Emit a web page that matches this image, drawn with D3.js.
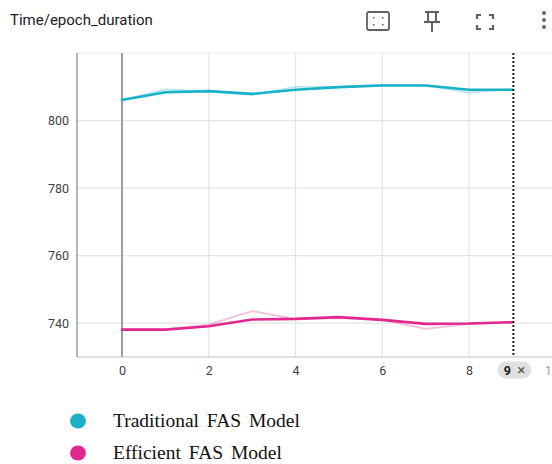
<!DOCTYPE html>
<html>
<head>
<meta charset="utf-8">
<script src="https://cdn.jsdelivr.net/npm/d3@7"></script>
<style>
  html, body { margin: 0; padding: 0; background: #fff; }
  svg { display: block; }
</style>
</head>
<body>
<svg id="chart" width="552" height="464"></svg>
<script>
const steps = [0, 1, 2, 3, 4, 5, 6, 7, 8, 9]
const traditionalRaw = [806.1, 809.2, 808.6, 807.6, 810.0, 810.0, 810.6, 810.4, 808.3, 809.3]
const traditionalSmooth = [806.1, 808.4, 808.7, 807.9, 809.1, 809.9, 810.4, 810.4, 809.1, 809.1]
const efficientRaw = [738.1, 738.2, 739.6, 743.6, 741.2, 741.5, 741.0, 738.3, 739.8, 740.3]
const efficientSmooth = [738.1, 738.1, 739.1, 741.1, 741.3, 741.8, 741.0, 739.8, 739.9, 740.3]
const seriesNames = ["Traditional FAS Model", "Efficient FAS Model"]
const seriesColors = ["#19b1c8", "#e2288f"]
const yTicks = [740, 760, 780, 800]
const xTicks = [0, 2, 4, 6, 8, 10]
const hoverStep = 9

const svg = d3.select("#chart")
const plotLeft = 77, plotTop = 53, plotBottom = 357, plotRight = 552

const x = d3.scaleLinear().domain([0, 8]).range([122, 469])
const y = d3.scaleLinear().domain([730, 820]).range([plotBottom, plotTop])

// title
svg.append("text")
  .attr("x", 10).attr("y", 25)
  .attr("font-family", "Roboto, sans-serif")
  .attr("font-size", 15)
  .attr("fill", "#212121")
  .text("Time/epoch_duration")

// toolbar icons
const icons = svg.append("g").attr("stroke", "#616161").attr("fill", "none")
icons.append("rect").attr("x", 367).attr("y", 12).attr("width", 22).attr("height", 18).attr("rx", 2).attr("stroke-width", 1.8)
icons.append("g").attr("fill", "#616161").attr("stroke", "none")
  .selectAll("rect").data([[373, 17], [382, 17], [373, 24], [382, 24]])
  .join("rect").attr("x", d => d[0]).attr("y", d => d[1]).attr("width", 1.5).attr("height", 1.5)
icons.append("path").attr("stroke-width", 2)
  .attr("d", "M425 12 H439 M428 12 V22 M436 12 V22 M424 22 H440 M432 22 V32")
icons.append("path").attr("stroke-width", 2.2)
  .attr("d", "M477 19 V15 H481 M489 15 H493 V19 M493 25 V29 H489 M481 29 H477 V25")
svg.append("g").attr("fill", "#616161")
  .selectAll("circle").data([13, 20, 27]).join("circle")
  .attr("cx", 544).attr("cy", d => d).attr("r", 2)

// frame
const plot = svg.append("g")
plot.append("line").attr("x1", plotLeft).attr("x2", plotRight).attr("y1", plotTop).attr("y2", plotTop)
  .attr("stroke", "#ececec").attr("stroke-width", 1)

// horizontal grid
plot.append("g").selectAll("line").data(yTicks).join("line")
  .attr("x1", plotLeft).attr("x2", plotRight)
  .attr("y1", d => y(d)).attr("y2", d => y(d))
  .attr("stroke", "#e4e4e4").attr("stroke-width", 1.2)

// vertical grid
plot.append("g").selectAll("line").data(xTicks).join("line")
  .attr("x1", d => x(d)).attr("x2", d => x(d))
  .attr("y1", plotTop).attr("y2", plotBottom)
  .attr("stroke", d => d === 0 ? "#9e9e9e" : "#e4e4e4")
  .attr("stroke-width", d => d === 0 ? 2 : 1.2)

// axes lines
plot.append("line").attr("x1", plotLeft).attr("x2", plotLeft).attr("y1", plotTop).attr("y2", plotBottom)
  .attr("stroke", "#9e9e9e").attr("stroke-width", 1.5)
plot.append("line").attr("x1", plotLeft).attr("x2", plotRight).attr("y1", plotBottom).attr("y2", plotBottom)
  .attr("stroke", "#bdbdbd").attr("stroke-width", 1)

// y tick labels
const yAxis = svg.append("g").attr("transform", `translate(${plotLeft},0)`)
  .call(d3.axisLeft(y).tickValues(yTicks).tickSize(0).tickPadding(8))
yAxis.select(".domain").remove()
yAxis.selectAll("text").attr("font-family", "Roboto, sans-serif").attr("font-size", 12.5).attr("fill", "#424242")

// x tick labels
const xAxis = svg.append("g").attr("transform", `translate(0,${plotBottom})`)
  .call(d3.axisBottom(x).tickValues(xTicks.filter(d => d !== 10 && d !== hoverStep)).tickSize(0).tickPadding(9))
xAxis.select(".domain").remove()
xAxis.selectAll("text").attr("font-family", "Roboto, sans-serif").attr("font-size", 12.5).attr("fill", "#424242")
svg.append("text").attr("x", 545).attr("y", plotBottom + 9).attr("dy", "0.71em")
  .attr("font-family", "Roboto, sans-serif").attr("font-size", 12)
  .attr("fill", "#9e9e9e").text("1")

// lines
const line = d3.line().x((d, i) => x(steps[i])).y(d => y(d)).curve(d3.curveLinear)
const series = [
  { raw: traditionalRaw, smooth: traditionalSmooth, color: seriesColors[0] },
  { raw: efficientRaw, smooth: efficientSmooth, color: seriesColors[1] }
]
series.forEach(s => {
  plot.append("path").datum(s.raw).attr("d", line).attr("fill", "none")
    .attr("stroke", s.color).attr("stroke-opacity", 0.3).attr("stroke-width", 1.8)
  plot.append("path").datum(s.smooth).attr("d", line).attr("fill", "none")
    .attr("stroke", s.color).attr("stroke-width", 2.6)
    .attr("stroke-linejoin", "round").attr("stroke-linecap", "round")
})

// hover marker
plot.append("line").attr("x1", x(hoverStep) + 1).attr("x2", x(hoverStep) + 1).attr("y1", plotTop).attr("y2", plotBottom)
  .attr("stroke", "#212121").attr("stroke-width", 2).attr("stroke-dasharray", "2,2")
const pill = svg.append("g").attr("transform", `translate(${x(hoverStep) + 1},${plotBottom + 13})`)
pill.append("rect").attr("x", -16).attr("y", -8.5).attr("width", 34).attr("height", 17).attr("rx", 8.5)
  .attr("fill", "#e0e0e0")
pill.append("text").attr("x", -6).attr("y", 4.5).attr("text-anchor", "middle")
  .attr("font-family", "Roboto, sans-serif").attr("font-size", 12.5).attr("font-weight", 700).attr("fill", "#212121")
  .text(hoverStep)
pill.append("text").attr("x", 8).attr("y", 5).attr("text-anchor", "middle")
  .attr("font-family", "Roboto, sans-serif").attr("font-size", 15).attr("fill", "#555")
  .text("×")

// legend
const legend = svg.append("g").selectAll("g").data(seriesNames).join("g")
  .attr("transform", (d, i) => `translate(78,${421 + i * 32})`)
legend.append("ellipse").attr("rx", 8).attr("ry", 7.5)
  .attr("fill", (d, i) => seriesColors[i])
legend.append("text").attr("x", 35).attr("y", 6)
  .attr("font-family", "'Liberation Serif', 'Times New Roman', serif")
  .attr("font-size", 19.5).attr("word-spacing", 3).attr("fill", "#111")
  .text(d => d)
</script>
</body>
</html>
